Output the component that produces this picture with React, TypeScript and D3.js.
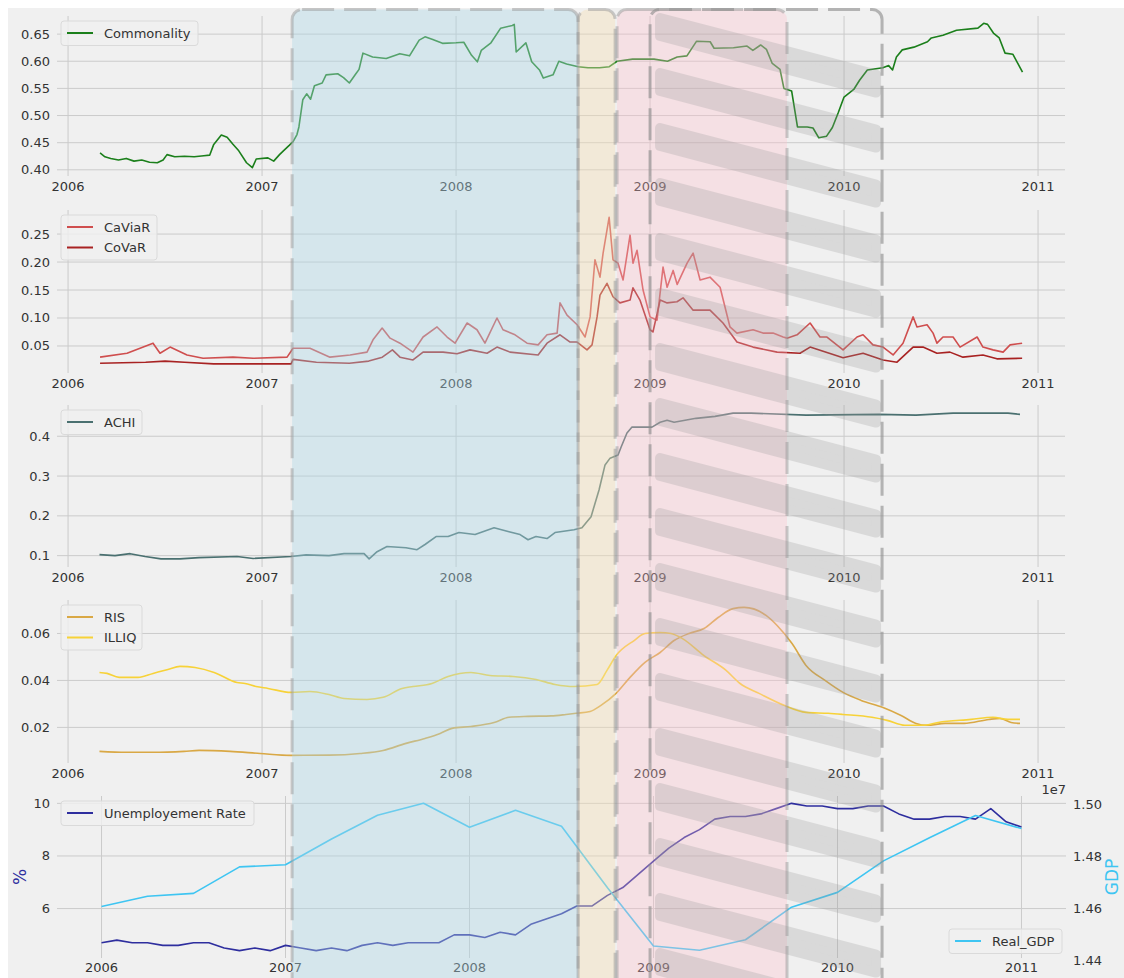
import React, { useEffect } from 'react';
import * as d3 from 'd3';

type Pt = [number, number];

const yearTicks = [2006, 2007, 2008, 2009, 2010, 2011];

const commonality: Pt[] = [[2006.165,0.431],[2006.19,0.424],[2006.22,0.421],[2006.26,0.418],[2006.3,0.421],[2006.34,0.416],[2006.38,0.418],[2006.42,0.414],[2006.46,0.413],[2006.49,0.418],[2006.51,0.428],[2006.55,0.424],[2006.6,0.425],[2006.65,0.424],[2006.7,0.426],[2006.73,0.427],[2006.75,0.446],[2006.79,0.464],[2006.82,0.46],[2006.85,0.447],[2006.88,0.435],[2006.92,0.413],[2006.95,0.404],[2006.97,0.42],[2007.03,0.422],[2007.06,0.416],[2007.09,0.428],[2007.11,0.435],[2007.14,0.445],[2007.16,0.452],[2007.18,0.465],[2007.19,0.479],[2007.21,0.529],[2007.23,0.54],[2007.25,0.53],[2007.27,0.555],[2007.31,0.56],[2007.33,0.575],[2007.39,0.577],[2007.42,0.57],[2007.45,0.56],[2007.48,0.575],[2007.5,0.585],[2007.52,0.615],[2007.57,0.608],[2007.64,0.605],[2007.71,0.614],[2007.76,0.61],[2007.81,0.639],[2007.84,0.645],[2007.88,0.64],[2007.93,0.633],[2008.0,0.634],[2008.04,0.635],[2008.08,0.611],[2008.11,0.599],[2008.13,0.62],[2008.18,0.634],[2008.23,0.661],[2008.29,0.666],[2008.3,0.668],[2008.31,0.617],[2008.36,0.634],[2008.39,0.599],[2008.43,0.584],[2008.45,0.569],[2008.5,0.575],[2008.53,0.6],[2008.57,0.595],[2008.63,0.59],[2008.68,0.588],[2008.74,0.588],[2008.79,0.59],[2008.83,0.6],[2008.91,0.604],[2009.02,0.604],[2009.09,0.6],[2009.14,0.608],[2009.19,0.61],[2009.24,0.637],[2009.31,0.636],[2009.33,0.624],[2009.43,0.625],[2009.5,0.628],[2009.53,0.62],[2009.57,0.63],[2009.6,0.622],[2009.63,0.596],[2009.67,0.585],[2009.69,0.55],[2009.73,0.545],[2009.76,0.479],[2009.81,0.479],[2009.84,0.477],[2009.87,0.459],[2009.91,0.462],[2009.94,0.478],[2009.97,0.505],[2010.0,0.534],[2010.05,0.548],[2010.08,0.565],[2010.12,0.584],[2010.2,0.588],[2010.23,0.592],[2010.25,0.584],[2010.27,0.608],[2010.3,0.621],[2010.36,0.626],[2010.43,0.636],[2010.45,0.643],[2010.51,0.648],[2010.58,0.657],[2010.69,0.661],[2010.72,0.67],[2010.74,0.668],[2010.77,0.652],[2010.8,0.643],[2010.83,0.615],[2010.87,0.613],[2010.89,0.6],[2010.92,0.58]];

const caviar: Pt[] = [[2006.165,0.030],[2006.304,0.037],[2006.438,0.055],[2006.474,0.037],[2006.526,0.048],[2006.613,0.034],[2006.696,0.028],[2006.85,0.030],[2006.954,0.028],[2007.129,0.030],[2007.16,0.046],[2007.247,0.046],[2007.35,0.030],[2007.454,0.034],[2007.541,0.039],[2007.572,0.061],[2007.619,0.082],[2007.66,0.064],[2007.711,0.055],[2007.778,0.039],[2007.83,0.066],[2007.902,0.084],[2007.954,0.066],[2007.995,0.055],[2008.057,0.091],[2008.108,0.079],[2008.149,0.055],[2008.211,0.100],[2008.242,0.079],[2008.304,0.070],[2008.366,0.055],[2008.423,0.052],[2008.469,0.070],[2008.521,0.073],[2008.536,0.127],[2008.572,0.105],[2008.624,0.088],[2008.665,0.066],[2008.691,0.102],[2008.716,0.204],[2008.742,0.173],[2008.758,0.216],[2008.789,0.280],[2008.809,0.204],[2008.835,0.198],[2008.861,0.168],[2008.897,0.248],[2008.912,0.198],[2008.933,0.221],[2008.964,0.150],[2009.0,0.102],[2009.036,0.096],[2009.067,0.191],[2009.088,0.155],[2009.119,0.185],[2009.14,0.160],[2009.191,0.198],[2009.222,0.216],[2009.258,0.168],[2009.309,0.173],[2009.361,0.155],[2009.412,0.084],[2009.448,0.073],[2009.531,0.079],[2009.582,0.073],[2009.634,0.073],[2009.686,0.066],[2009.706,0.064],[2009.758,0.070],[2009.825,0.091],[2009.876,0.066],[2009.912,0.066],[2009.995,0.043],[2010.067,0.066],[2010.098,0.070],[2010.149,0.052],[2010.201,0.048],[2010.253,0.034],[2010.304,0.055],[2010.356,0.102],[2010.376,0.084],[2010.428,0.088],[2010.459,0.073],[2010.479,0.055],[2010.51,0.066],[2010.562,0.066],[2010.598,0.048],[2010.686,0.066],[2010.716,0.048],[2010.768,0.043],[2010.82,0.039],[2010.856,0.052],[2010.918,0.055]];

const covar: Pt[] = [[2006.165,0.019],[2006.4,0.021],[2006.5,0.023],[2006.6,0.021],[2006.75,0.018],[2006.95,0.018],[2007.15,0.018],[2007.16,0.026],[2007.28,0.021],[2007.45,0.019],[2007.55,0.023],[2007.62,0.030],[2007.672,0.043],[2007.711,0.030],[2007.778,0.025],[2007.83,0.039],[2007.933,0.039],[2008.005,0.036],[2008.072,0.043],[2008.16,0.037],[2008.211,0.048],[2008.278,0.039],[2008.423,0.034],[2008.469,0.055],[2008.536,0.070],[2008.588,0.057],[2008.624,0.057],[2008.675,0.043],[2008.701,0.052],[2008.727,0.102],[2008.742,0.141],[2008.778,0.162],[2008.809,0.138],[2008.845,0.127],[2008.897,0.132],[2008.912,0.154],[2008.948,0.132],[2009.0,0.079],[2009.015,0.075],[2009.052,0.132],[2009.088,0.127],[2009.139,0.129],[2009.17,0.136],[2009.222,0.114],[2009.309,0.114],[2009.376,0.091],[2009.448,0.057],[2009.531,0.048],[2009.655,0.039],[2009.773,0.037],[2009.825,0.048],[2009.995,0.029],[2010.098,0.037],[2010.201,0.025],[2010.273,0.021],[2010.356,0.048],[2010.407,0.048],[2010.479,0.037],[2010.546,0.039],[2010.613,0.030],[2010.716,0.034],[2010.788,0.027],[2010.918,0.028]];

const achi: Pt[] = [[2006.162,0.1025],[2006.242,0.100],[2006.32,0.105],[2006.397,0.098],[2006.479,0.092],[2006.577,0.092],[2006.675,0.095],[2006.871,0.098],[2006.954,0.093],[2007.149,0.098],[2007.227,0.102],[2007.345,0.100],[2007.423,0.105],[2007.526,0.105],[2007.552,0.092],[2007.593,0.110],[2007.644,0.123],[2007.742,0.120],[2007.799,0.115],[2007.84,0.128],[2007.897,0.148],[2007.959,0.148],[2008.015,0.158],[2008.098,0.153],[2008.196,0.170],[2008.273,0.160],[2008.33,0.153],[2008.371,0.140],[2008.412,0.148],[2008.469,0.143],[2008.51,0.158],[2008.608,0.165],[2008.649,0.170],[2008.696,0.198],[2008.737,0.265],[2008.768,0.328],[2008.794,0.345],[2008.835,0.353],[2008.851,0.373],[2008.881,0.408],[2008.907,0.423],[2009.01,0.423],[2009.052,0.435],[2009.088,0.440],[2009.124,0.435],[2009.237,0.445],[2009.335,0.450],[2009.428,0.458],[2009.521,0.458],[2009.804,0.453],[2010.18,0.455],[2010.371,0.453],[2010.562,0.458],[2010.655,0.458],[2010.845,0.458],[2010.907,0.455]];

const ris: Pt[] = [[2006.162,0.0098],[2006.299,0.0094],[2006.438,0.0094],[2006.598,0.0098],[2006.675,0.0102],[2006.835,0.0098],[2006.99,0.0089],[2007.149,0.0081],[2007.345,0.0082],[2007.505,0.0089],[2007.624,0.0102],[2007.742,0.0132],[2007.84,0.0153],[2007.918,0.0174],[2007.979,0.0196],[2008.077,0.0204],[2008.196,0.0221],[2008.273,0.0243],[2008.371,0.0247],[2008.49,0.0249],[2008.567,0.0255],[2008.619,0.026],[2008.691,0.0268],[2008.747,0.0294],[2008.825,0.0345],[2008.897,0.0413],[2008.974,0.0477],[2009.052,0.0519],[2009.124,0.057],[2009.201,0.06],[2009.278,0.0621],[2009.351,0.0668],[2009.428,0.0706],[2009.485,0.0711],[2009.598,0.0677],[2009.655,0.0634],[2009.732,0.0557],[2009.804,0.0464],[2009.902,0.040],[2009.995,0.0349],[2010.088,0.0315],[2010.201,0.0285],[2010.294,0.0251],[2010.371,0.0217],[2010.428,0.0209],[2010.521,0.0217],[2010.619,0.0217],[2010.747,0.0234],[2010.804,0.0238],[2010.861,0.0221],[2010.907,0.0217]];

const illiq: Pt[] = [[2006.162,0.0434],[2006.201,0.043],[2006.263,0.0413],[2006.361,0.0413],[2006.438,0.043],[2006.515,0.0447],[2006.577,0.046],[2006.655,0.0455],[2006.753,0.0434],[2006.871,0.0391],[2006.912,0.0387],[2006.969,0.0374],[2007.031,0.0366],[2007.149,0.0349],[2007.247,0.0353],[2007.345,0.034],[2007.423,0.0323],[2007.541,0.0319],[2007.624,0.0328],[2007.722,0.0366],[2007.778,0.0374],[2007.876,0.0387],[2007.959,0.0417],[2008.077,0.0434],[2008.175,0.0421],[2008.294,0.0417],[2008.412,0.0404],[2008.51,0.0383],[2008.608,0.0374],[2008.727,0.0383],[2008.778,0.0443],[2008.825,0.0506],[2008.918,0.057],[2008.974,0.060],[2009.052,0.0604],[2009.108,0.060],[2009.165,0.0579],[2009.278,0.0506],[2009.392,0.0443],[2009.464,0.0387],[2009.562,0.0345],[2009.691,0.0294],[2009.804,0.0264],[2009.918,0.026],[2009.995,0.0255],[2010.144,0.0243],[2010.222,0.023],[2010.314,0.0209],[2010.407,0.0209],[2010.485,0.0221],[2010.655,0.0234],[2010.768,0.0243],[2010.845,0.0234],[2010.907,0.0234]];

// monthly, starting January 2006
const unemploymentRate = [
  4.7, 4.8, 4.7, 4.7, 4.6, 4.6, 4.7, 4.7, 4.5, 4.4, 4.5, 4.4,
  4.6, 4.5, 4.4, 4.5, 4.4, 4.6, 4.7, 4.6, 4.7, 4.7, 4.7, 5.0,
  5.0, 4.9, 5.1, 5.0, 5.4, 5.6, 5.8, 6.1, 6.1, 6.5, 6.8, 7.3,
  7.8, 8.3, 8.7, 9.0, 9.4, 9.5, 9.5, 9.6, 9.8, 10.0, 9.9, 9.9,
  9.8, 9.8, 9.9, 9.9, 9.6, 9.4, 9.4, 9.5, 9.5, 9.4, 9.8, 9.3,
  9.1,
];
// quarterly, starting 2006 Q1, in units of 1e7
const realGdp = [1.4608, 1.4647, 1.4658, 1.4760, 1.4768, 1.4867, 1.4958, 1.5004, 1.4912, 1.4977, 1.4916, 1.4680, 1.4456, 1.4440, 1.4480, 1.4605, 1.4662, 1.4783, 1.4872, 1.4957, 1.4907];

// crisis phases (dates on the upper panels' time axis)
const phaseStarts = [2007.155, 2008.629, 2008.83];
const phaseEnds = [2008.629, 2008.82, 2009.706];
const hatchStart = 2009.0;
const hatchEnd = 2010.196;

const FONT = "'DejaVu Sans', Verdana, sans-serif";
const TXT = '#333333';
const GRID = '#cbcbcb';
const BG = '#f0f0f0';

const xTop = d3.scaleLinear().domain([2005.943, 2011.139]).range([57, 1065]);
const xBot = d3.scaleLinear().domain([2005.758, 2011.242]).range([57, 1066]);

type Series = { data: Pt[]; color: string; label: string; curve?: d3.CurveFactory };

function Legend({ x, y, w, items }: { x: number; y: number; w: number; items: { color: string; label: string }[] }) {
  const rowH = 20.5;
  const h = 4 + items.length * rowH;
  return (
    <g>
      <rect x={x} y={y} width={w} height={h} rx={3} fill={BG} fillOpacity={0.8} stroke="#dadada" strokeWidth={1} />
      {items.map((it, i) => {
        const cy = y + 12 + i * rowH;
        return (
          <g key={i}>
            <line x1={x + 6} x2={x + 32} y1={cy} y2={cy} stroke={it.color} strokeWidth={2} />
            <text x={x + 43} y={cy} dominantBaseline="central" fontSize={13} fill={TXT} fontFamily={FONT}>{it.label}</text>
          </g>
        );
      })}
    </g>
  );
}

function TopPanel({ top, bottom, yDomain, yTicks, fmt, series, legendW }: {
  top: number; bottom: number; yDomain: [number, number]; yTicks: number[]; fmt: string; series: Series[]; legendW: number;
}) {
  const y = d3.scaleLinear().domain(yDomain).range([bottom, top]);
  const f = d3.format(fmt);
  const [x0, x1] = xTop.range();
  return (
    <g>
      {yTicks.map((t) => (
        <g key={'y' + t}>
          <line x1={x0} x2={x1} y1={y(t)} y2={y(t)} stroke={GRID} strokeWidth={1} />
          <text x={50} y={y(t)} textAnchor="end" dominantBaseline="central" fontSize={13} fill={TXT} fontFamily={FONT}>{f(t)}</text>
        </g>
      ))}
      {yearTicks.map((t) => (
        <g key={'x' + t}>
          <line x1={xTop(t)} x2={xTop(t)} y1={top} y2={bottom} stroke={GRID} strokeWidth={1} />
          <text x={xTop(t)} y={bottom + 10} textAnchor="middle" dominantBaseline="central" fontSize={13} fill={TXT} fontFamily={FONT}>{t}</text>
        </g>
      ))}
      {series.map((s, i) => {
        const line = d3.line<Pt>().x((d) => xTop(d[0])).y((d) => y(d[1])).curve(s.curve || d3.curveLinear);
        return <path key={i} d={line(s.data) || ''} fill="none" stroke={s.color} strokeWidth={1.6} strokeLinejoin="round" />;
      })}
      <Legend x={61} y={top + 5} w={legendW} items={series.map((s) => ({ color: s.color, label: s.label }))} />
    </g>
  );
}

export default function App() {
  useEffect(() => {
    document.documentElement.style.overflow = 'hidden';
  }, []);

  // bottom panel
  const bTop = 796, bBottom = 958;
  const yL = d3.scaleLinear().domain([4.12, 10.28]).range([bBottom, bTop]);
  const yR = d3.scaleLinear().domain([1.441, 1.5032]).range([bBottom, bTop]);
  const unempPts: Pt[] = unemploymentRate.map((v, i) => [2006 + i / 12, v]);
  const gdpPts: Pt[] = realGdp.map((v, i) => [2006 + i / 4, v]);
  const unempLine = d3.line<Pt>().x((d) => xBot(d[0])).y((d) => yL(d[1]));
  const gdpLine = d3.line<Pt>().x((d) => xBot(d[0])).y((d) => yR(d[1]));
  const unempColor = '#2e2e9e';
  const gdpColor = '#3ec5f2';

  const phaseFills = ['#add8e6', '#f5deb3', '#ffc0cb'];
  const phaseOpac = [0.4, 0.4, 0.33];

  const hx0 = xTop(hatchStart), hx1 = xTop(hatchEnd);
  const slope = 0.262;
  const bands = d3.range(18).map((k) => {
    const xl = hx0 + 10, xr = hx1 - 6;
    const t = 18 + 55 * k;
    const th = 18;
    const dy = slope * (xr - xl);
    return `M${xl},${t}L${xr},${t + dy}L${xr},${t + dy + th}L${xl},${t + th}Z`;
  });

  const dash = '32 10';
  const rectTop = 9.5;

  return (
    <svg width={1124} height={978}
      style={{ display: 'block', position: 'fixed', left: 0, top: 0 }} fontFamily={FONT}>
      <defs>
        <clipPath id="figClip">
          <rect x={8} y={8} width={1116} height={970} />
        </clipPath>
      </defs>
      <rect x={0} y={0} width={1124} height={978} fill="#ffffff" />
      <g clipPath="url(#figClip)">
        <rect x={8} y={8} width={1116} height={970} fill={BG} />

        <TopPanel top={16} bottom={176} yDomain={[0.3886, 0.6834]} yTicks={[0.4, 0.45, 0.5, 0.55, 0.6, 0.65]} fmt=".2f"
          series={[{ data: commonality, color: '#1b7f1b', label: 'Commonality' }]} legendW={137} />
        <TopPanel top={210} bottom={373} yDomain={[0.0017, 0.293]} yTicks={[0.05, 0.1, 0.15, 0.2, 0.25]} fmt=".2f"
          series={[{ data: caviar, color: '#cf4e4e', label: 'CaViaR' }, { data: covar, color: '#a82222', label: 'CoVaR' }]} legendW={96} />
        <TopPanel top={405} bottom={567} yDomain={[0.0715, 0.4785]} yTicks={[0.1, 0.2, 0.3, 0.4]} fmt=".1f"
          series={[{ data: achi, color: '#4a7070', label: 'ACHI' }]} legendW={81} />
        <TopPanel top={600} bottom={763} yDomain={[0.00484, 0.07426]} yTicks={[0.02, 0.04, 0.06]} fmt=".2f"
          series={[{ data: ris, color: '#d9a845', label: 'RIS', curve: d3.curveMonotoneX }, { data: illiq, color: '#f7d238', label: 'ILLIQ', curve: d3.curveMonotoneX }]} legendW={81} />

        {/* bottom panel */}
        <g>
          {[6, 8, 10].map((t) => (
            <g key={'l' + t}>
              <line x1={57} x2={1066} y1={yL(t)} y2={yL(t)} stroke={GRID} strokeWidth={1} />
              <text x={50} y={yL(t)} textAnchor="end" dominantBaseline="central" fontSize={13} fill={TXT}>{t}</text>
            </g>
          ))}
          {yearTicks.map((t) => (
            <g key={'bx' + t}>
              <line x1={xBot(t)} x2={xBot(t)} y1={bTop} y2={bBottom} stroke={GRID} strokeWidth={1} />
              <text x={xBot(t)} y={bBottom + 9} textAnchor="middle" dominantBaseline="central" fontSize={13} fill={TXT}>{t}</text>
            </g>
          ))}
          {[1.44, 1.46, 1.48, 1.5].map((t) => (
            <text key={'r' + t} x={1073} y={yR(t)} textAnchor="start" dominantBaseline="central" fontSize={13} fill={TXT}>{t.toFixed(2)}</text>
          ))}
          <text x={1066} y={789} textAnchor="end" dominantBaseline="central" fontSize={13} fill={TXT}>1e7</text>
          <text transform={`translate(20,${(bTop + bBottom) / 2}) rotate(-90)`} textAnchor="middle" dominantBaseline="central" fontSize={17} fill={unempColor}>%</text>
          <text transform={`translate(1112,${(bTop + bBottom) / 2}) rotate(-90)`} textAnchor="middle" dominantBaseline="central" fontSize={17} fill={gdpColor}>GDP</text>
          <path d={unempLine(unempPts) || ''} fill="none" stroke={unempColor} strokeWidth={1.6} strokeLinejoin="round" />
          <Legend x={61} y={801} w={193} items={[{ color: unempColor, label: 'Unemployement Rate' }]} />
          <path d={gdpLine(gdpPts) || ''} fill="none" stroke={gdpColor} strokeWidth={1.6} strokeLinejoin="round" />
          <Legend x={949} y={929} w={113} items={[{ color: gdpColor, label: 'Real_GDP' }]} />
        </g>

        {/* phase overlays */}
        {phaseStarts.map((s, i) => (
          <rect key={'ph' + i} x={xTop(s)} y={rectTop} width={xTop(phaseEnds[i]) - xTop(s)} height={1000} rx={10}
            fill={phaseFills[i]} fillOpacity={phaseOpac[i]} />
        ))}
        <g opacity={0.26}>
          {bands.map((d, i) => (
            <path key={'b' + i} d={d} fill="#999999" stroke="#999999" strokeWidth={10} strokeLinejoin="round" />
          ))}
        </g>
        {phaseStarts.map((s, i) => (
          <rect key={'pb' + i} x={xTop(s)} y={rectTop} width={xTop(phaseEnds[i]) - xTop(s)} height={1000} rx={10}
            fill="none" stroke="#9a9a9a" strokeOpacity={0.5} strokeWidth={3} strokeDasharray={dash} />
        ))}
        <rect x={hx0} y={rectTop} width={hx1 - hx0} height={1000} rx={10}
          fill="none" stroke="#8a8a8a" strokeOpacity={0.6} strokeWidth={3} strokeDasharray={dash} />
      </g>
    </svg>
  );
}
